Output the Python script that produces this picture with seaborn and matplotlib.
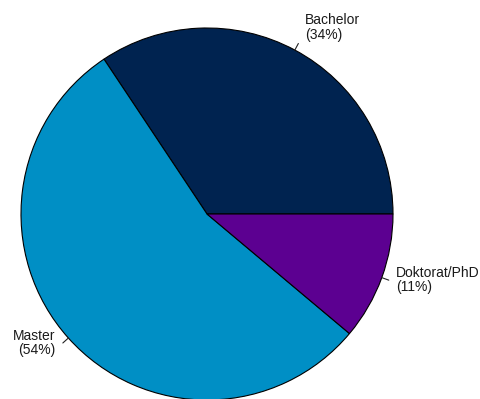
import numpy as np
import matplotlib
matplotlib.use("Agg")
import matplotlib.pyplot as plt
import seaborn as sns

# Share of graduates by degree
categories = ["Bachelor", "Master", "Doktorat/PhD"]
shares = [34, 54, 11]
colors = ["#002350", "#008FC5", "#5C0091"]

sns.set_theme(style="white")
plt.rcParams["font.family"] = ["Liberation Sans", "DejaVu Sans"]

W, H = 481, 399
fig = plt.figure(figsize=(W / 100, H / 100), dpi=100)
ax = fig.add_axes([0, 0, 1, 1])
ax.set_xlim(0, W)
ax.set_ylim(0, H)
ax.set_aspect("equal")
ax.axis("off")

cx, cy, r = 207, 185, 186
wedges, _ = ax.pie(
    shares,
    colors=colors,
    startangle=0,
    counterclock=True,
    center=(cx, cy),
    radius=r,
    frame=True,
    wedgeprops=dict(edgecolor="black", linewidth=0.8),
)
ax.set_xlim(0, W)
ax.set_ylim(0, H)
ax.axis("off")

total = sum(shares)
for w, name, val in zip(wedges, categories, shares):
    mid = np.deg2rad((w.theta1 + w.theta2) / 2)
    c, s = np.cos(mid), np.sin(mid)
    x0, y0 = cx + r * c, cy + r * s
    x1, y1 = cx + r * 1.04 * c, cy + r * 1.04 * s
    ax.plot([x0, x1], [y0, y1], color="#222222", lw=0.8)
    ha = "left" if c > 0 else "right"
    dx = 7 if c > 0 else -7
    dy = 16 if s > 0.7 else 0
    ax.text(x1 + dx, y1 + dy, f"{name}\n({val}%)", ha=ha, va="center",
            fontsize=10, color="#1a1a1a", linespacing=1.05,
            multialignment=ha)

fig.savefig("out.png", dpi=100)
